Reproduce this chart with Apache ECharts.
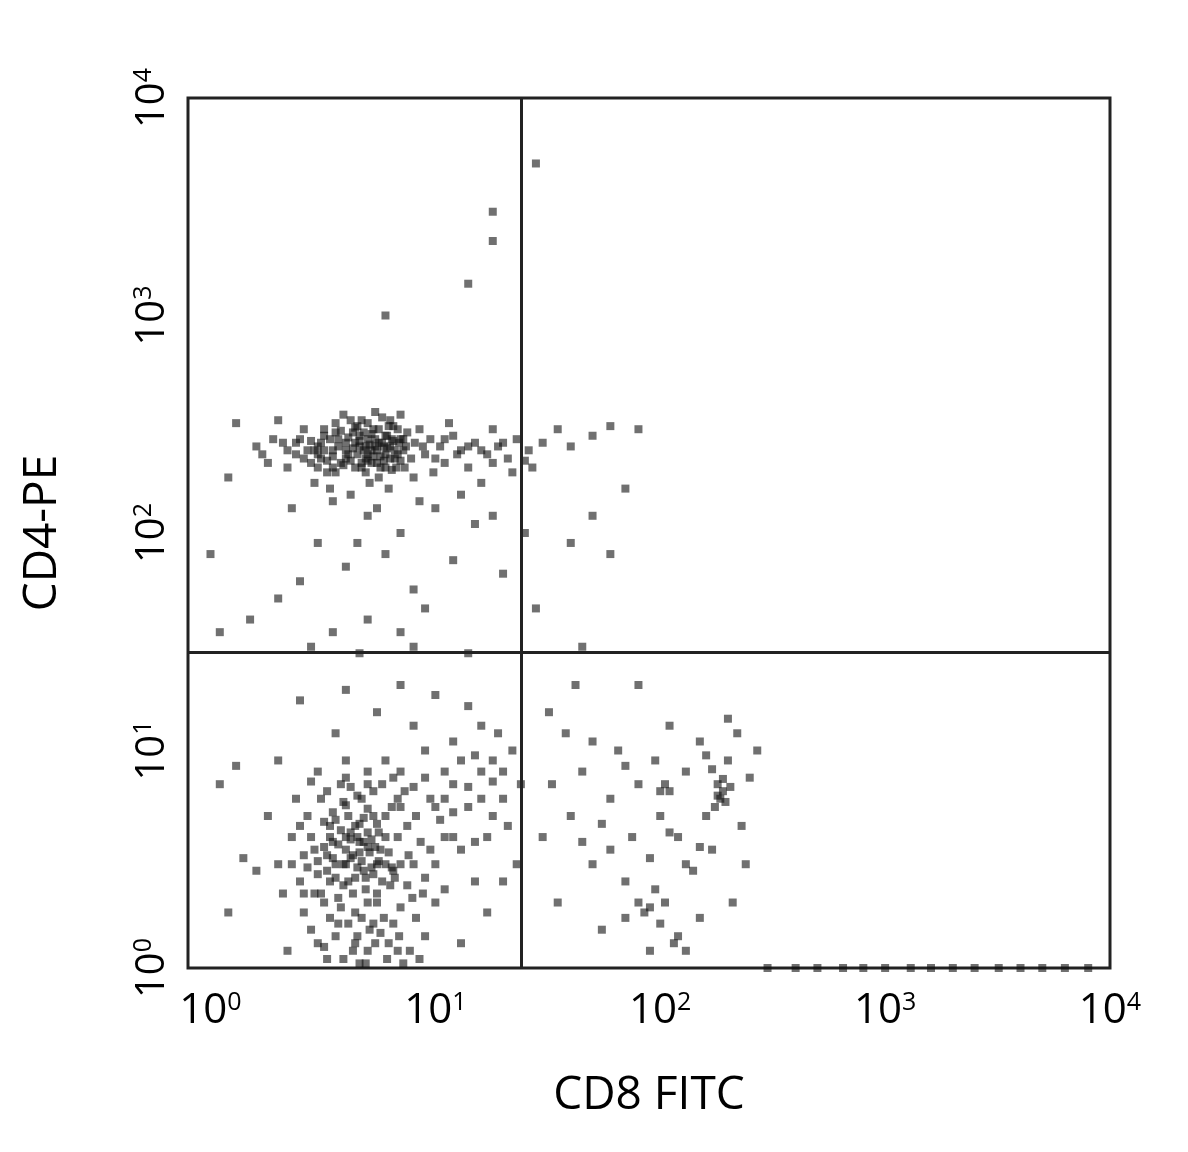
<!DOCTYPE html>
<html><head><meta charset="utf-8">
<script src="https://cdn.jsdelivr.net/npm/echarts@6/dist/echarts.min.js"></script>
<style>html,body{margin:0;padding:0;background:#fff}#c{width:1188px;height:1152px}</style>
</head><body><div id="c"></div>
<script>
const decadeTicks = [0, 1, 2, 3, 4];
const quadrantX = 24, quadrantY = 28;
const cd4Pos = [[2.1,260],[2.4,230],[2.6,300],[2.8,210],[3.0,250],[3.2,280],[3.3,190],[3.5,240],[3.6,320],[3.8,210],[4.0,260],[4.1,230],[4.3,290],[4.4,200],[4.6,250],[4.7,330],[4.9,220],[5.0,270],[5.2,240],[5.3,300],[5.5,210],[5.6,260],[5.8,340],[6.0,230],[6.1,280],[6.3,250],[6.5,310],[6.7,200],[6.9,260],[7.2,240],[7.5,290],[7.8,220],[8.1,260],[8.5,300],[9.0,230],[9.5,270],[10.5,250],[11,210],[12,280],[13,240],[14,200],[15,260],[17,230],[19,250],[21,220],[23,270],[26,240],[30,260],[35,300],[40,250],[50,280],[60,310],[80,300],[1.3,320],[1.2,180],[1.6,250],[1.8,210],[2.0,330],[3.4,160],[4.2,150],[5.1,170],[6.2,160],[7.0,350],[8.0,180],[3.9,350],[5.4,360],[2.9,170],[4.5,310],[5.7,200],[6.6,220],[3.1,220],[3.7,270],[4.8,240],[5.9,250],[6.4,270],[2.5,270],[2.2,200],[9.8,190],[11.5,320],[16,170],[18,300],[22,190],[27,200],[3.5,200],[4.4,260],[5.2,210],[5.0,230],[4.7,200],[6.8,300],[7.3,200],[3.2,240],[4.0,220],[4.6,280],[5.4,250],[6.0,200],[2.7,240],[3.6,290],[5.0,320],[6.3,330],[7.0,270]];
const cd4Core = [[3.0,230],[3.1,260],[3.3,215],[3.4,270],[3.5,225],[3.7,250],[3.8,295],[3.9,205],[4.0,240],[4.1,275],[4.2,215],[4.3,245],[4.4,305],[4.5,230],[4.6,265],[4.7,210],[4.8,290],[4.9,250],[5.0,215],[5.1,255],[5.2,285],[5.3,225],[5.4,270],[5.5,240],[5.6,300],[5.7,225],[5.8,260],[5.9,215],[6.0,280],[6.1,245],[6.2,310],[6.3,220],[6.5,265],[6.6,240],[6.8,230],[7.0,215],[7.2,270],[7.4,250],[2.6,220],[2.8,265],[2.9,240],[3.2,300],[3.6,190],[4.2,330],[4.9,190],[5.6,180],[6.4,195],[3.0,200],[2.4,260],[2.2,240],[1.9,270],[1.7,230],[8.8,250],[10,220],[11,270],[12.5,230],[14,250],[16,240],[18,210],[20,260],[25,215]];
const scattered = [[5,120],[3,90],[7,100],[10,130],[15,110],[6,80],[2.5,60],[4,70],[8,55],[12,75],[5,40],[3.5,35],[7,35],[18,120],[25,100],[40,90],[60,80],[50,120],[2,50],[1.5,40],[9,45],[20,65],[28,45],[45,30],[70,160],[6,1000],[14,1400],[18,2200],[18,3000],[28,5000],[1.1,35],[1,80],[2.8,30],[8,30],[14,28],[4.6,28],[3.5,140],[5.5,130],[8.5,140],[13,150],[2.3,130],[4.5,90]];
const doubleNeg = [[2,3],[2.3,4],[2.5,2.5],[2.7,5],[2.9,3.5],[3.1,6],[3.2,2],[3.4,4.5],[3.6,3],[3.8,7],[3.9,2.4],[4.1,5],[4.2,3.2],[4.4,1.8],[4.5,4],[4.7,6],[4.8,2.8],[5.0,3.6],[5.1,1.5],[5.3,5],[5.5,2.2],[5.6,4.2],[5.8,7],[6.0,3],[6.2,1.3],[6.4,5.5],[6.6,2.6],[6.8,4],[7.0,1.9],[7.3,6.5],[7.6,3.3],[7.9,2.1],[8.2,5],[8.6,3.8],[9.0,1.4],[9.5,6],[10,3],[10.5,4.8],[11,2.3],[12,7],[13,3.5],[14,5.5],[15,2.5],[16,8],[17,4],[18,9],[20,6],[22,10],[24,7],[2.2,1.2],[2.8,1.5],[3.3,1.1],[3.7,1.6],[4.3,1.2],[4.9,1.05],[5.4,1.3],[6.1,1.1],[6.9,1.4],[7.7,1.2],[8.5,1.1],[3.0,2.7],[3.5,3.8],[4.0,3],[4.6,3.4],[5.2,2.9],[5.7,3.5],[6.3,2.4],[3.3,3.3],[4.0,4],[4.4,2.6],[5.0,2],[2.6,3.3],[2.4,6],[3.0,8],[4.0,9],[5.0,8],[6,9],[7,8],[1.8,5],[1.6,2.8],[1.4,3.2],[1.2,1.8],[1.1,7],[1.3,8.5],[2.0,9],[3.6,12],[5.5,15],[8,13],[10,18],[14,16],[4,19],[2.5,17],[7,20],[12,11],[16,13],[19,12],[9,10],[11,8],[13,1.3],[17,1.8],[20,2.5],[23,3],[6.5,2.8],[7.5,4.5],[8.8,2.2],[9.5,3.5],[3.9,5.8],[4.6,4.6],[5.3,6.5],[2.9,2.2],[3.8,1.9],[5.9,1.7],[12,4],[15,3.8],[18,5],[21,4.5],[11,6],[13,9],[3.4,2.5],[4.2,4.2],[4.8,3.8],[3.6,4.8],[5.5,3],[2.6,2.2],[3.0,1.3],[4.5,1.4],[6.0,5],[7.0,3]];
const dnCore = [[3.0,3.1],[3.2,3.6],[3.3,2.8],[3.4,4.0],[3.5,3.2],[3.6,2.6],[3.7,3.7],[3.8,4.3],[3.9,3.0],[4.0,3.5],[4.1,2.5],[4.2,3.9],[4.3,3.3],[4.4,4.5],[4.5,2.9],[4.6,3.8],[4.7,3.1],[4.8,4.9],[4.9,2.6],[5.0,4.2],[5.1,3.4],[5.2,3.9],[5.3,2.7],[5.4,3.6],[5.5,4.6],[5.6,3.1],[5.8,2.5],[6.0,4.0],[6.2,3.4],[6.4,2.9],[3.5,5.2],[4.0,5.6],[4.5,6.2],[5.0,5.4],[3.2,4.7],[2.8,4.0],[2.7,2.9],[3.1,2.2],[3.7,2.1],[4.3,2.2],[4.9,2.3],[5.5,2.0],[3.4,1.7],[4.1,1.6],[4.7,1.7],[5.3,1.6],[3.6,1.4],[4.4,1.3],[5.0,1.2],[3.9,1.1],[4.6,1.05],[3.2,1.25],[5.7,1.45],[6.5,1.6],[2.6,1.8],[2.5,4.5],[2.3,3.0],[2.1,2.2],[6.8,6.0],[8,6.8],[9,7.5],[10,5.5],[11,4.0],[12,5.2],[14,6.8],[16,6.0],[18,7.2],[20,8.0],[15,9.5],[8,3.0],[9,2.6],[10,2.0],[7,5.5],[6.5,7.5],[5.0,7.0],[4.0,7.5],[4.2,6.8],[3.3,6.5],[2.8,7.2],[7.5,2.4],[8.2,1.7],[6.8,1.2],[7.2,1.05]];
const cd8Pos = [[35,2],[40,5],[45,8],[50,3],[55,1.5],[60,6],[65,10],[70,2.5],[75,4],[80,7],[85,1.8],[90,3.2],[95,9],[100,5],[105,2],[110,6.5],[115,1.3],[120,4],[130,8],[140,2.8],[150,11],[160,5],[170,3.5],[180,7],[185,6],[190,6.5],[200,9],[210,2],[220,12],[230,4.5],[250,7.5],[270,10],[100,1.6],[90,1.2],[80,2],[120,1.4],[150,1.7],[60,3.5],[70,8.5],[110,13],[200,14],[175,5.5],[195,5.8],[240,3],[130,3],[30,4],[33,7],[38,12],[42,20],[80,20],[32,15],[50,11],[180,6.2],[190,7.4],[170,8.2],[205,6.8],[160,9.5],[100,6.5],[105,7],[110,4.2],[90,1.9],[95,2.3],[130,1.2],[70,1.7],[150,3.6],[45,3.8],[55,4.6]];
const axisFloor = [[300,1],[400,1],[500,1],[650,1],[800,1],[1000,1],[1300,1],[1600,1],[2000,1],[2500,1],[3200,1],[4000,1],[5000,1],[6300,1],[8000,1]];

const toLog = a => a.map(p => [Math.log10(p[0]), Math.log10(p[1])]);
const allPts = toLog([].concat(cd4Pos, cd4Core, scattered, doubleNeg, dnCore, cd8Pos, axisFloor));
const sup = {s:{fontSize:25, verticalAlign:'top', padding:[0,0,18,0], color:'#000'}};
const chart = echarts.init(document.getElementById('c'));
chart.setOption({
  animation:false,
  grid:{left:188,right:78,top:98,bottom:184,show:true,borderColor:'#222',borderWidth:3,backgroundColor:'#fff'},
  xAxis:{type:'value',min:-0.1,max:4,splitLine:{show:false},
    axisLine:{show:false},axisTick:{show:false},
    axisLabel:{customValues:decadeTicks,margin:22,fontSize:42,color:'#000',fontFamily:'Open Sans',
      formatter:v=>'10{s|'+v+'}',rich:sup},
    name:'CD8 FITC',nameLocation:'middle',nameGap:105,nameTextStyle:{fontSize:46,color:'#000',fontFamily:'Open Sans'}},
  yAxis:{type:'value',min:0,max:4,interval:1,splitLine:{show:false},
    axisLine:{show:false},axisTick:{show:false},
    axisLabel:{rotate:90,margin:14,fontSize:40,color:'#000',fontFamily:'Open Sans',
      formatter:v=>'10{s|'+v+'}',rich:sup},
    name:'CD4-PE',nameLocation:'middle',nameGap:122,nameTextStyle:{fontSize:46,color:'#000',fontFamily:'Open Sans'}},
  series:[{type:'scatter',data:allPts,symbol:'rect',symbolSize:8,
    itemStyle:{color:'#111',opacity:0.6},
    markLine:{silent:true,symbol:'none',label:{show:false},
      lineStyle:{color:'#222',width:3,type:'solid'},
      data:[{xAxis:Math.log10(quadrantX)},{yAxis:Math.log10(quadrantY)}]}}]
});
</script></body></html>
